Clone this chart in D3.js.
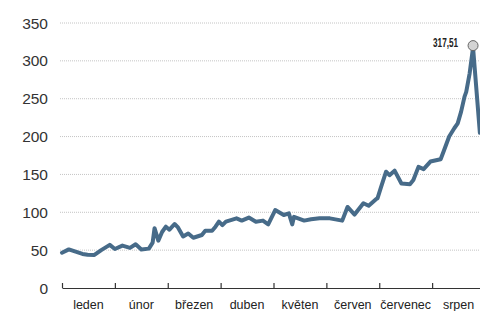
<!DOCTYPE html>
<html>
<head>
<meta charset="utf-8">
<script src="https://cdn.jsdelivr.net/npm/d3@7"></script>
<style>
  html, body { margin: 0; padding: 0; background: #fff; }
  svg { display: block; }
</style>
</head>
<body>
<div id="chart"></div>
<script>
const months = ['leden', 'únor', 'březen', 'duben', 'květen', 'červen', 'červenec', 'srpen']
const yTicks = [0, 50, 100, 150, 200, 250, 300, 350]

// dates (MM-DD) and closing values
const dates = [
  '01-01', '01-05', '01-09', '01-13', '01-16', '01-20', '01-24', '01-29',
  '02-01', '02-05', '02-09', '02-12', '02-15', '02-19', '02-21', '02-22', '02-24', '02-26', '02-28',
  '03-02', '03-05', '03-07', '03-10', '03-13', '03-16', '03-21', '03-23', '03-27', '03-29', '03-31',
  '04-02', '04-04', '04-10', '04-13', '04-17', '04-21', '04-25', '04-28',
  '05-02', '05-07', '05-10', '05-12', '05-13', '05-19', '05-23', '05-28',
  '06-03', '06-10', '06-13', '06-17', '06-22', '06-25', '06-29', '06-30',
  '07-02', '07-05', '07-07', '07-10', '07-14', '07-19', '07-21', '07-24', '07-27', '07-31',
  '08-06', '08-08', '08-11', '08-14', '08-16', '08-18', '08-20', '08-21', '08-23', '08-25', '08-29',
]
const values = [
  46.6, 51, 48, 45, 44, 43.6, 50, 57,
  51.5, 56, 53, 57.7, 51, 52, 60, 79, 62.5, 74, 81,
  77, 84.5, 80, 68, 72, 66.4, 70, 75.7, 75.7, 81, 87.6,
  83, 87.6, 92, 89, 93, 87.6, 89, 84,
  103, 96.4, 98.6, 84, 94, 89, 90.7, 92,
  92, 89, 107, 97, 112, 108.7, 117, 118.5,
  133, 153.6, 149, 155, 138, 137, 142.6, 160, 157, 167,
  170, 182, 200, 211, 217.5, 233, 252.7, 259, 283.6, 317.51, 205,
]
const peakLabel = '317,51'

const width = 480
const height = 311
const margin = { top: 23, right: -5, bottom: 23, left: 62 }

const monthDays = [31, 28, 31, 30, 31, 30, 31, 31]
// month index + fraction of the month, so every month gets equal width
const monthPos = s => {
  const [m, d] = s.split('-').map(Number)
  return m - 1 + (d - 1) / monthDays[m - 1]
}

const data = dates.map((d, i) => ({ t: monthPos(d), v: values[i] }))

const svg = d3.select('#chart')
  .append('svg')
  .attr('width', width)
  .attr('height', height)

const x = d3.scaleLinear()
  .domain([0, months.length])
  .range([margin.left, width - margin.right])

const y = d3.scaleLinear()
  .domain([0, 350])
  .range([height - margin.bottom, margin.top])

// dotted grid
svg.append('g')
  .selectAll('line')
  .data(yTicks.filter(d => d > 0))
  .join('line')
  .attr('x1', 60)
  .attr('x2', width)
  .attr('y1', d => y(d))
  .attr('y2', d => y(d))
  .attr('stroke', '#c4c4c4')
  .attr('stroke-width', 1)
  .attr('stroke-dasharray', '1,1')

// y labels
svg.append('g')
  .selectAll('text')
  .data(yTicks)
  .join('text')
  .attr('x', 48)
  .attr('y', d => y(d))
  .attr('dy', '0.36em')
  .attr('text-anchor', 'end')
  .attr('font-family', 'Liberation Sans, Arial, sans-serif')
  .attr('font-size', 15.5)
  .attr('fill', '#333')
  .text(d => d)

// x axis with month ticks pointing up
const xAxis = svg.append('g')
  .attr('transform', `translate(0,${y(0)})`)
  .call(d3.axisBottom(x)
    .tickValues(d3.range(0, months.length + 1))
    .tickSize(-5)
    .tickSizeOuter(0)
    .tickFormat(''))
xAxis.select('.domain').attr('stroke', '#333').attr('stroke-width', 1.2)
xAxis.selectAll('.tick line').attr('stroke', '#333').attr('stroke-width', 1.2)

svg.append('g')
  .selectAll('text')
  .data(months)
  .join('text')
  .attr('x', (d, i) => x(i + 0.5))
  .attr('y', 309)
  .attr('text-anchor', 'middle')
  .attr('font-family', 'Liberation Sans Narrow, Arial Narrow, Liberation Sans, sans-serif')
  .attr('font-size', 12.5)
  .attr('fill', '#222')
  .text(d => d)

// the line
const line = d3.line()
  .x(d => x(d.t))
  .y(d => y(d.v))

svg.append('path')
  .datum(data)
  .attr('fill', 'none')
  .attr('stroke', '#fff')
  .attr('stroke-width', 6)
  .attr('stroke-opacity', 0.6)
  .attr('stroke-linejoin', 'round')
  .attr('d', line)

svg.append('path')
  .datum(data)
  .attr('fill', 'none')
  .attr('stroke', '#476b89')
  .attr('stroke-width', 4)
  .attr('stroke-linejoin', 'round')
  .attr('stroke-linecap', 'round')
  .attr('d', line)

// peak marker
const peak = data.reduce((a, b) => (b.v > a.v ? b : a))
svg.append('circle')
  .attr('cx', x(peak.t))
  .attr('cy', y(peak.v) - 2)
  .attr('r', 5)
  .attr('fill', '#d3d3d3')
  .attr('stroke', '#666')
  .attr('stroke-width', 1)

// condensed bold label, squeezed to the width seen in the picture
svg.append('text')
  .attr('x', x(peak.t) - 40)
  .attr('y', y(peak.v) - 1)
  .attr('font-family', 'Liberation Sans Narrow, Arial Narrow, Liberation Sans, sans-serif')
  .attr('font-weight', 'bold')
  .attr('font-size', 13)
  .attr('textLength', 25)
  .attr('lengthAdjust', 'spacingAndGlyphs')
  .attr('fill', '#222')
  .text(peakLabel)
</script>
</body>
</html>
